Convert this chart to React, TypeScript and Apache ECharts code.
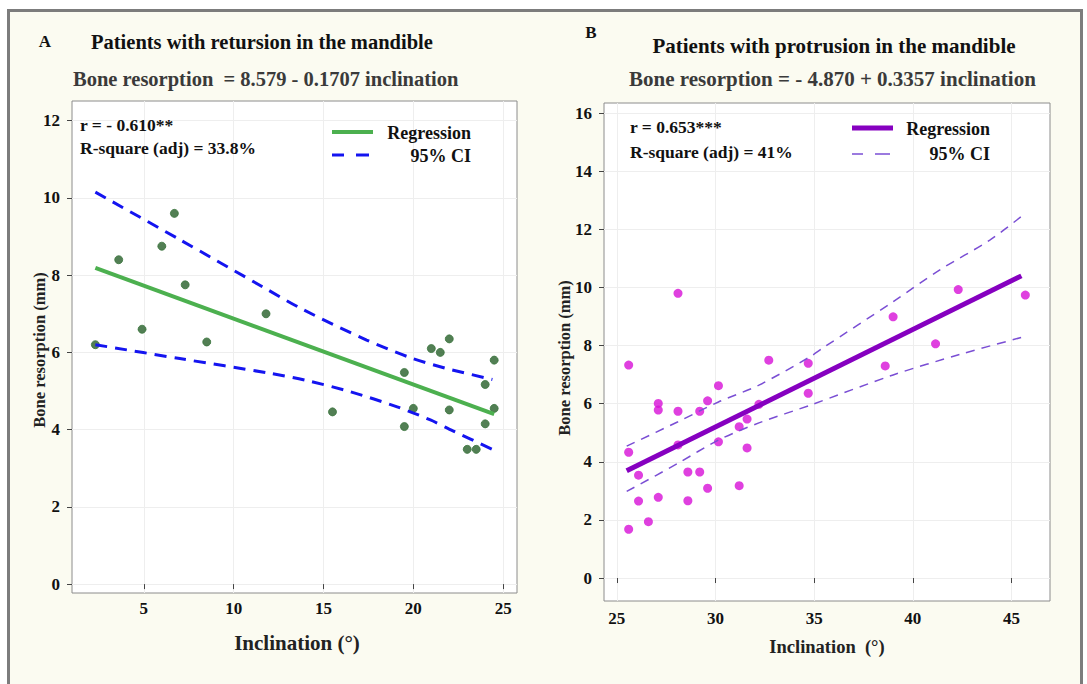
import React, { useEffect, useRef } from "react";
import * as echarts from "echarts";

// ---------- Panel A: retursion ----------
const retInclination = [2.3, 3.6, 4.9, 6.0, 6.7, 7.3, 8.5, 11.8, 15.5, 19.5, 19.5, 20.0, 21.0, 21.5, 22.0, 22.0, 23.0, 23.5, 24.0, 24.0, 24.5, 24.5];
const retBone = [6.2, 8.4, 6.6, 8.75, 9.6, 7.75, 6.27, 7.0, 4.46, 5.48, 4.08, 4.55, 6.1, 6.0, 6.35, 4.51, 3.49, 3.49, 5.17, 4.15, 5.8, 4.55];
const retRegX = [2.3, 24.5];
const retRegY = [8.19, 4.4];
const retUpperX = [2.3, 7, 11.6, 13.9, 17.4, 19.8, 21.8, 24.4];
const retUpperY = [10.15, 8.92, 7.7, 7.1, 6.32, 5.87, 5.59, 5.3];
const retLowerX = [2.3, 7, 12, 14.0, 16.5, 19.1, 20.95, 22.2, 24.4];
const retLowerY = [6.2, 5.84, 5.46, 5.28, 4.98, 4.59, 4.25, 3.97, 3.49];
const retXTicks = [5, 10, 15, 20, 25];
const retYTicks = [0, 2, 4, 6, 8, 10, 12];

// ---------- Panel B: protrusion ----------
const proInclination = [25.6, 25.6, 25.6, 26.1, 26.1, 26.6, 27.1, 27.1, 27.1, 28.1, 28.1, 28.1, 28.6, 28.6, 29.2, 29.2, 29.6, 29.6, 30.15, 30.15, 31.2, 31.2, 31.6, 31.6, 32.2, 32.7, 34.7, 34.7, 38.6, 39.0, 41.15, 42.3, 45.7];
const proBone = [7.33, 4.33, 1.68, 3.54, 2.65, 1.94, 6.01, 5.78, 2.78, 9.8, 5.74, 4.58, 3.65, 2.66, 5.74, 3.65, 6.1, 3.09, 6.62, 4.69, 5.21, 3.18, 5.47, 4.48, 5.98, 7.5, 7.39, 6.36, 7.3, 8.99, 8.06, 9.93, 9.74];
const proRegX = [25.5, 45.5];
const proRegY = [3.69, 10.4];
const proUpperX = [25.5, 28.1, 30.15, 32.2, 34.8, 35.4, 39.0, 41.35, 43.9, 45.6];
const proUpperY = [4.54, 5.38, 6.06, 6.64, 7.62, 7.9, 9.51, 10.6, 11.63, 12.5];
const proLowerX = [25.5, 28.1, 30.15, 32.2, 34.8, 39.0, 42.4, 45.6];
const proLowerY = [2.98, 3.95, 4.75, 5.34, 5.95, 6.99, 7.7, 8.3];
const proXTicks = [25, 30, 35, 40, 45];
const proYTicks = [0, 2, 4, 6, 8, 10, 12, 14, 16];

const FONT = '"Liberation Serif", "Times New Roman", serif';

const zip = (xs: number[], ys: number[]) => xs.map((x, i) => [x, ys[i]]);

function makeX(gridIndex: number, min: number, max: number, ticks: number[], margin: number, size: number) {
  return {
    type: "value",
    gridIndex,
    min,
    max,
    axisLine: { show: false },
    axisTick: { show: true, length: 5, customValues: ticks, lineStyle: { color: "#444", width: 1 } },
    axisLabel: { customValues: ticks, margin, color: "#111", fontFamily: FONT, fontWeight: "bold", fontSize: size },
    splitLine: { show: true, lineStyle: { color: "#eeeeee", width: 1 } },
  };
}
function makeY(gridIndex: number, min: number, max: number, ticks: number[], size: number) {
  return {
    type: "value",
    gridIndex,
    min,
    max,
    axisLine: { show: false },
    axisTick: { show: true, length: 5, customValues: ticks, lineStyle: { color: "#444", width: 1 } },
    axisLabel: { customValues: ticks, margin: 12, color: "#111", fontFamily: FONT, fontWeight: "bold", fontSize: size },
    splitLine: { show: true, lineStyle: { color: "#eeeeee", width: 1 } },
  };
}

function txt(text: string, x: number, y: number, size: number, align: string, fill = "#111", rotation = 0, weight = "bold") {
  return {
    type: "text",
    x,
    y,
    z: 100,
    rotation,
    silent: true,
    style: {
      text,
      fill,
      font: `${weight} ${size}px ${FONT}`,
      align,
      verticalAlign: "middle",
      textAlign: align,
      textVerticalAlign: "middle",
    },
  };
}
function seg(x1: number, y1: number, x2: number, y2: number, color: string, width: number) {
  return { type: "line", z: 100, silent: true, shape: { x1, y1, x2, y2 }, style: { stroke: color, lineWidth: width } };
}

export default function App() {
  const ref = useRef<HTMLDivElement>(null);
  useEffect(() => {
    if (!ref.current) return;
    const chart = echarts.init(ref.current, undefined, { renderer: "svg" });
    const option: any = {
      animation: false,
      backgroundColor: "transparent",
      grid: [
        { left: 72, top: 101, width: 445, height: 492, show: true, backgroundColor: "#ffffff", borderColor: "#8c8c8c", borderWidth: 1 },
        { left: 604, top: 103, width: 446, height: 498, show: true, backgroundColor: "#ffffff", borderColor: "#8c8c8c", borderWidth: 1 },
      ],
      xAxis: [makeX(0, 1.0, 25.77, retXTicks, 7, 17), makeX(1, 24.35, 46.95, proXTicks, 9, 17)],
      yAxis: [makeY(0, -0.23, 12.51, retYTicks, 17), makeY(1, -0.79, 16.35, proYTicks, 17)],
      series: [
        {
          type: "line", xAxisIndex: 0, yAxisIndex: 0, data: zip(retUpperX, retUpperY), smooth: 0.3, showSymbol: false, silent: true,
          lineStyle: { color: "#1414f0", width: 3, type: [12, 8] },
        },
        {
          type: "line", xAxisIndex: 0, yAxisIndex: 0, data: zip(retLowerX, retLowerY), smooth: 0.3, showSymbol: false, silent: true,
          lineStyle: { color: "#1414f0", width: 3, type: [12, 8] },
        },
        {
          type: "line", xAxisIndex: 0, yAxisIndex: 0, data: zip(retRegX, retRegY), showSymbol: false, silent: true,
          lineStyle: { color: "#4cb04f", width: 4 },
        },
        {
          type: "scatter", xAxisIndex: 0, yAxisIndex: 0, data: zip(retInclination, retBone), symbolSize: 8,
          itemStyle: { color: "#275f29", borderColor: "#3a743c", borderWidth: 1 },
        },
        {
          type: "line", xAxisIndex: 1, yAxisIndex: 1, data: zip(proUpperX, proUpperY), smooth: 0.3, showSymbol: false, silent: true,
          lineStyle: { color: "#7a4ed4", width: 1.5, type: [9, 7] },
        },
        {
          type: "line", xAxisIndex: 1, yAxisIndex: 1, data: zip(proLowerX, proLowerY), smooth: 0.3, showSymbol: false, silent: true,
          lineStyle: { color: "#7a4ed4", width: 1.5, type: [9, 7] },
        },
        {
          type: "line", xAxisIndex: 1, yAxisIndex: 1, data: zip(proRegX, proRegY), showSymbol: false, silent: true,
          lineStyle: { color: "#8600c0", width: 5 },
        },
        {
          type: "scatter", xAxisIndex: 1, yAxisIndex: 1, data: zip(proInclination, proBone), symbolSize: 9,
          itemStyle: { color: "#d710d7" },
        },
      ],
      graphic: [
        txt("A", 45, 41, 17, "center"),
        txt("Patients with retursion in the mandible", 91, 42, 20.5, "left"),
        txt("Bone resorption  = 8.579 - 0.1707 inclination", 73, 79, 20.5, "left", "#3a3a3a"),
        txt("B", 591, 32, 17, "center"),
        txt("Patients with protrusion in the mandible", 834, 46, 21, "center"),
        txt("Bone resorption = - 4.870 + 0.3357 inclination", 629, 79, 21, "left", "#3a3a3a"),
        txt("r = - 0.610**", 80, 125, 17.5, "left"),
        txt("R-square (adj) = 33.8%", 80, 148, 17.5, "left"),
        txt("r = 0.653***", 630, 127, 17.5, "left"),
        txt("R-square (adj) = 41%", 630, 152, 17.5, "left"),
        seg(332, 132, 373, 132, "#4cb04f", 4),
        seg(332, 155, 344, 155, "#1414f0", 3),
        seg(356, 155, 369, 155, "#1414f0", 3),
        txt("Regression", 471, 133, 18, "right"),
        txt("95% CI", 471, 156, 18, "right"),
        seg(852, 128, 893, 128, "#8600c0", 5),
        seg(852, 154, 863, 154, "#7a4ed4", 1.5),
        seg(875, 154, 890, 154, "#7a4ed4", 1.5),
        txt("Regression", 990, 129, 18, "right"),
        txt("95% CI", 990, 154, 18, "right"),
        txt("Bone resorption (mm)", 39, 350, 16.5, "center", "#222", Math.PI / 2),
        txt("Bone resorption (mm)", 564, 358, 16.5, "center", "#222", Math.PI / 2),
        txt("Inclination (°)", 297, 643, 21, "center", "#222"),
        txt("Inclination  (°)", 827, 647, 18.5, "center", "#222"),
      ],
    };
    chart.setOption(option);
    return () => chart.dispose();
  }, []);

  return (
    <div style={{ position: "fixed", left: 0, top: 0, width: 1087, height: 684, background: "#ffffff", overflow: "hidden" }}>
      <div
        style={{
          position: "absolute",
          left: 7,
          top: 9,
          width: 1070,
          height: 720,
          border: "3px solid #7c7c7c",
          background: "#fbfbf1",
        }}
      />
      <div ref={ref} style={{ position: "absolute", left: 0, top: 0, width: 1087, height: 684 }} />
    </div>
  );
}
